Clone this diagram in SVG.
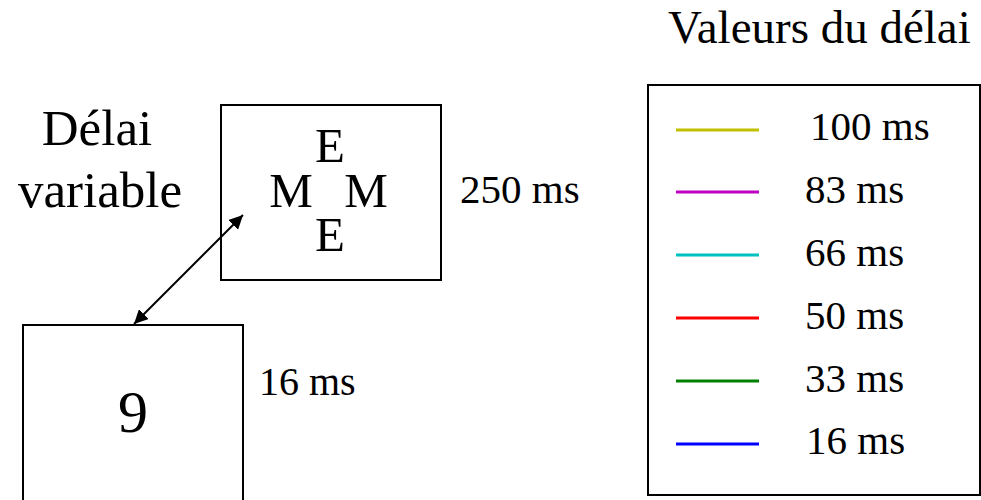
<svg xmlns="http://www.w3.org/2000/svg" width="981" height="500" viewBox="0 0 981 500">
<style>
text{font-family:"Liberation Serif","Times New Roman",serif;fill:#000}
.box{fill:#fff;stroke:#000;stroke-width:2}
.leg{font-size:41px}
.ll{stroke-width:3}
</style>
<defs>
<marker id="ah" viewBox="0 0 10 10" refX="10" refY="5" markerWidth="14" markerHeight="14" markerUnits="userSpaceOnUse" orient="auto-start-reverse">
<path d="M0,0 L10,5 L0,10 z" fill="#000"/>
</marker>
</defs>
<rect width="981" height="500" fill="#fff"/>
<text x="668" y="43" style="font-size:47px">Valeurs du délai</text>
<text x="97" y="145" text-anchor="middle" style="font-size:51px">Délai</text>
<text x="100" y="207" text-anchor="middle" style="font-size:51px">variable</text>
<g id="node-emme">
<rect class="box" x="221" y="105" width="220" height="175"/>
<text x="330" y="162" text-anchor="middle" style="font-size:49px">E</text>
<text x="291" y="207" text-anchor="middle" style="font-size:49px">M</text>
<text x="366" y="207" text-anchor="middle" style="font-size:49px">M</text>
<text x="330" y="251" text-anchor="middle" style="font-size:49px">E</text>
</g>
<text x="460" y="203" style="font-size:41px">250 ms</text>
<g id="node-9">
<rect class="box" x="23" y="325" width="220" height="185"/>
<text x="133" y="432" text-anchor="middle" style="font-size:60px">9</text>
</g>
<text x="259" y="395" style="font-size:40px">16 ms</text>
<g id="connectors">
<line x1="134" y1="324" x2="243" y2="215" stroke="#000" stroke-width="2" marker-start="url(#ah)" marker-end="url(#ah)"/>
</g>
<g id="legend">
<rect class="box" x="648" y="85" width="332" height="410"/>
<line class="ll" x1="676" y1="130" x2="759" y2="130" stroke="#c0c000"/>
<line class="ll" x1="676" y1="192" x2="759" y2="192" stroke="#c000c0"/>
<line class="ll" x1="676" y1="255" x2="759" y2="255" stroke="#00c0c0"/>
<line class="ll" x1="676" y1="318" x2="759" y2="318" stroke="#ff0000"/>
<line class="ll" x1="676" y1="381" x2="759" y2="381" stroke="#008000"/>
<line class="ll" x1="676" y1="444" x2="759" y2="444" stroke="#0000ff"/>
<text class="leg" x="810" y="140">100 ms</text>
<text class="leg" x="805" y="203">83 ms</text>
<text class="leg" x="805" y="266">66 ms</text>
<text class="leg" x="805" y="329">50 ms</text>
<text class="leg" x="805" y="392">33 ms</text>
<text class="leg" x="806" y="454">16 ms</text>
</g>
</svg>
